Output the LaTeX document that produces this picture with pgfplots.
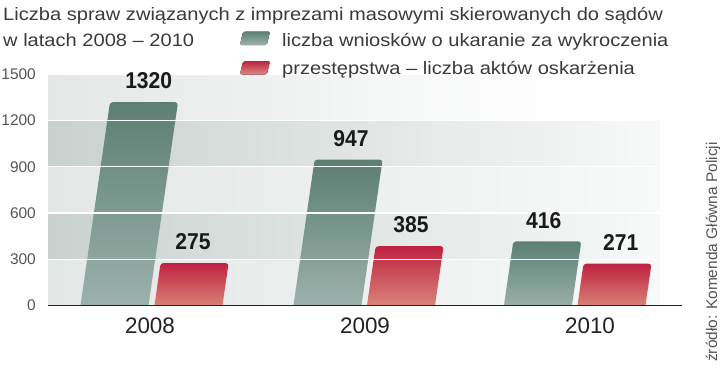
\documentclass[border=0pt]{standalone}
\usepackage{fontspec}
\setmainfont{Liberation Sans}
\newfontfamily\titlefont{Liberation Sans}[FakeStretch=1.12]
\newfontfamily\numfont{Liberation Sans}[FakeStretch=0.92]
\usepackage{pgfplots}
\pgfplotsset{compat=1.18}
\definecolor{gtop}{HTML}{5C7F73}
\definecolor{gbot}{HTML}{9DB3AD}
\definecolor{rtop}{HTML}{BF2240}
\definecolor{rbot}{HTML}{DB8A7E}
\definecolor{bandL}{HTML}{E3E7E6}
\definecolor{bandD}{HTML}{C9D2CF}
\definecolor{bandEnd}{HTML}{F8F9F9}
\definecolor{titlec}{HTML}{3A3A3A}
\definecolor{tickc}{HTML}{555555}
\definecolor{yearc}{HTML}{222222}
\definecolor{valc}{HTML}{1A1A1A}
\definecolor{axisc}{HTML}{222222}
\begin{document}
\begin{tikzpicture}[x=1bp,y=1bp]
\path[use as bounding box] (0,0) rectangle (720,367);
\begin{axis}[
  at={(48,40)}, anchor=south west,
  scale only axis, width=634bp, height=231bp,
  xmin=48, xmax=682, ymin=0, ymax=1500,
  axis x line*=bottom, axis y line*=left,
  y axis line style={draw=none},
  x axis line style={-, draw=axisc, line width=1.5bp},
  ytick={0,300,...,1500},
  xtick={150,365,590}, xticklabels={2008,2009,2010},
  major tick length=0pt,
  ymajorgrids, grid style={white, line width=1.3bp},
  axis on top,
  yticklabel style={font=\fontsize{15.5}{16}\selectfont, text=tickc, anchor=east, inner sep=0pt, xshift=-12bp},
  xticklabel style={font=\fontsize{22.5}{24}\selectfont, text=yearc, anchor=base, inner sep=0pt, yshift=-28bp},
  /pgf/number format/1000 sep={},
  /pgf/number format/assume math mode=true,
]
% background bands
\fill[left color=bandL, right color=bandEnd] (48,0) rectangle (660,300);
\fill[left color=bandD, right color=bandEnd] (48,300) rectangle (660,600);
\fill[left color=bandL, right color=bandEnd] (48,600) rectangle (660,900);
\fill[left color=bandD, right color=bandEnd] (48,900) rectangle (660,1200);
\fill[left color=bandL, right color=white] (48,1200) rectangle (560,1500);
% bars: liczba wniosków o ukaranie za wykroczenia (1320, 947, 416)
\addplot[draw=none, top color=gtop, bottom color=gbot, rounded corners=3bp] coordinates {(79.8,-30) (147.8,-30) (178,1320) (110,1320) (79.8,-30)};
\addplot[draw=none, top color=gtop, bottom color=gbot, rounded corners=3bp] coordinates {(292.8,-30) (360.8,-30) (382.6,947) (314.6,947) (292.8,-30)};
\addplot[draw=none, top color=gtop, bottom color=gbot, rounded corners=3bp] coordinates {(503.3,-30) (571.3,-30) (581.3,416) (513.3,416) (503.3,-30)};
% bars: przestępstwa – liczba aktów oskarżenia (275, 385, 271)
\addplot[draw=none, top color=rtop, bottom color=rbot, rounded corners=3bp] coordinates {(153.8,-30) (221.8,-30) (228.6,275) (160.6,275) (153.8,-30)};
\addplot[draw=none, top color=rtop, bottom color=rbot, rounded corners=3bp] coordinates {(366.3,-30) (434.3,-30) (443.6,385) (375.6,385) (366.3,-30)};
\addplot[draw=none, top color=rtop, bottom color=rbot, rounded corners=3bp] coordinates {(576.8,-30) (644.8,-30) (651.5,271) (583.5,271) (576.8,-30)};
% value labels
\addplot[only marks, mark=*, mark size=0pt, mark options={draw=none, fill=none},
  point meta=explicit symbolic, nodes near coords,
  nodes near coords style={font=\numfont\bfseries\fontsize{23}{24}\selectfont, text=valc, anchor=center, inner sep=0pt, yshift=21bp}]
  coordinates {(148.7,1320) [1320] (193,275) [275] (351,947) [947] (411,385) [385] (543.7,416) [416] (620.8,271) [271]};
\end{axis}
% title
\node[anchor=base west, inner sep=0, font=\titlefont\fontsize{18}{20}\selectfont, text=titlec] at (3,347) {Liczba spraw związanych z imprezami masowymi skierowanych do sądów};
\node[anchor=base west, inner sep=0, font=\titlefont\fontsize{18}{20}\selectfont, text=titlec] at (3,320.3) {w latach 2008 – 2010};
% legend
\fill[top color=gtop, bottom color=gbot, rounded corners=2bp] (240,322) -- (267,322) -- (270,335.5) -- (243,335.5) -- cycle;
\node[anchor=base west, inner sep=0, font=\titlefont\fontsize{18}{20}\selectfont, text=titlec] at (282,320.3) {liczba wniosków o ukaranie za wykroczenia};
\fill[top color=rtop, bottom color=rbot, rounded corners=2bp] (240,292.5) -- (267,292.5) -- (270,306) -- (243,306) -- cycle;
\node[anchor=base west, inner sep=0, font=\titlefont\fontsize{18}{20}\selectfont, text=titlec] at (282,293) {przestępstwa – liczba aktów oskarżenia};
% source
\node[rotate=90, anchor=base west, inner sep=0, font=\fontsize{15.5}{16}\selectfont, text=tickc] at (717,5) {źródło: Komenda Główna Policji};
\end{tikzpicture}
\end{document}
